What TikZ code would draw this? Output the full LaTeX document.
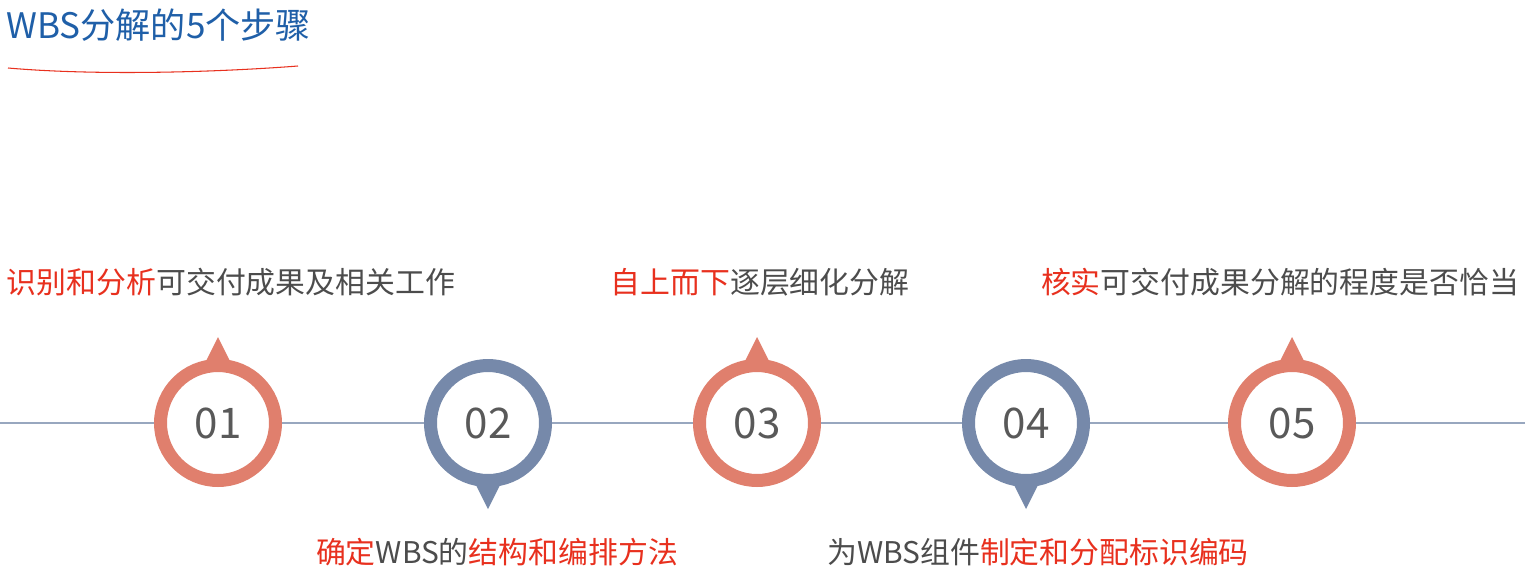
\documentclass[tikz,border=0pt]{standalone}
\usepackage{fontspec}
\setmainfont{Noto Sans CJK SC}
\begin{document}
\begin{tikzpicture}[x=0.02cm,y=-0.02cm,
  ring/.style={circle,draw=#1,line width=0.26cm,fill=white,minimum size=2.3cm,
    font=\fontsize{24}{28}\selectfont,text=black!65},
  lbl/.style={font=\fontsize{17}{20}\selectfont,text=black!70,inner sep=0pt}]
  \definecolor{salmon}{HTML}{E07F6D}
  \definecolor{slate}{HTML}{7689AA}
  \definecolor{hl}{HTML}{E8301E}
  \definecolor{titleblue}{HTML}{1F5FA8}
  \useasboundingbox (0,0) rectangle (1525,576);
  \fill[white] (0,0) rectangle (1525,576);

  % Titel
  \node[anchor=west,inner sep=0pt,text=titleblue,font=\fontsize{20}{24}\selectfont] (title) at (6,25) {WBS分解的5个步骤};
  \draw[hl,line width=0.6pt] (8,68) .. controls (100,76) and (220,72) .. (298,66);

  % Zeitachse
  \coordinate (l) at (0,423);
  \coordinate (r) at (1525,423);
  \draw[slate!75,line width=0.8pt] (l) -- (r);

  % Kreise mit Zeigern
  \foreach \x/\c/\d [count=\i] in {218/salmon/-1,488/slate/1,757/salmon/-1,1026/slate/1,1292/salmon/-1} {
    \fill[\c] (\x-14,423+\d*58) -- (\x,423+\d*86) -- (\x+14,423+\d*58) -- cycle;
    \node[ring=\c] (c\i) at (\x,423) {0\i};
  }

  % Texte
  \node[lbl] (t1) at (231,282) {\textcolor{hl}{识别和分析}可交付成果及相关工作};
  \node[lbl] (t2) at (497,552) {\textcolor{hl}{确定}WBS的\textcolor{hl}{结构和编排方法}};
  \node[lbl] (t3) at (760,282) {\textcolor{hl}{自上而下}逐层细化分解};
  \node[lbl] (t4) at (1038,552) {为WBS组件\textcolor{hl}{制定和分配标识编码}};
  \node[lbl] (t5) at (1280,282) {\textcolor{hl}{核实}可交付成果分解的程度是否恰当};
\end{tikzpicture}
\end{document}
